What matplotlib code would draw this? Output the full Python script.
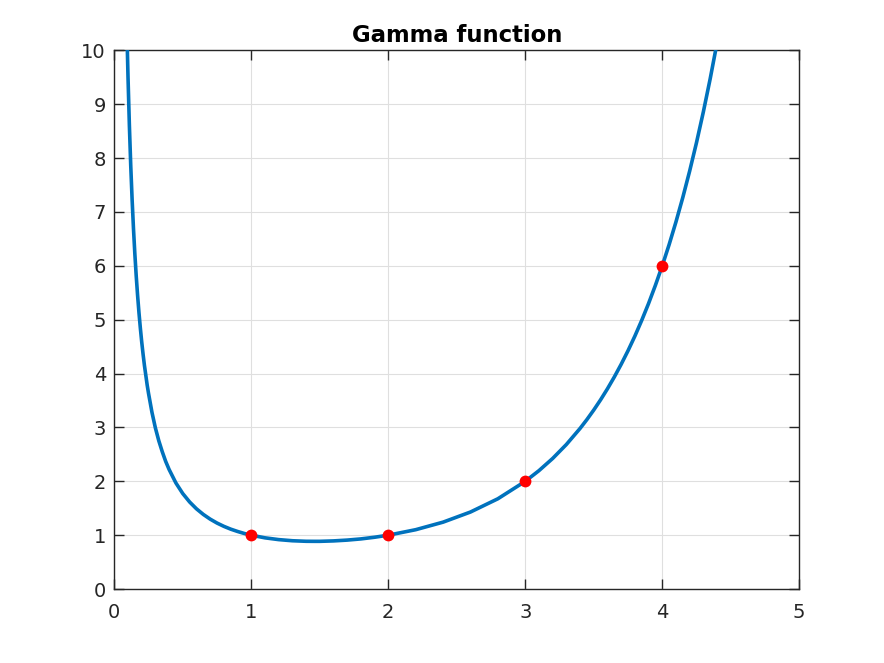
import matplotlib
matplotlib.use("Agg")
import matplotlib.pyplot as plt

# Curve samples
x_curve = [0.09, 0.095, 0.10, 0.11, 0.12, 0.13, 0.14, 0.15, 0.16, 0.17, 0.18, 0.19,
           0.20, 0.21, 0.22, 0.24, 0.25, 0.275, 0.30, 0.325, 0.35, 0.375, 0.40, 0.45,
           0.50, 0.55, 0.60, 0.65, 0.70, 0.75, 0.80, 0.85, 0.90, 0.95, 1.00, 1.10,
           1.20, 1.30, 1.40, 1.46, 1.50, 1.60, 1.70, 1.80, 1.90, 2.00, 2.20, 2.40,
           2.60, 2.80, 3.00, 3.10, 3.20, 3.30, 3.40, 3.45, 3.50, 3.55, 3.60, 3.65,
           3.70, 3.75, 3.80, 3.85, 3.90, 3.95, 4.00, 4.05, 4.10, 4.15, 4.20, 4.25,
           4.30, 4.35, 4.40, 4.45, 4.50]
y_curve = [10.66, 10.04, 9.51, 8.61, 7.86, 7.23, 6.69, 6.22, 5.811, 5.451, 5.132, 4.847,
           4.59, 4.360, 4.150, 3.786, 3.63, 3.279, 2.99, 2.751, 2.55, 2.370, 2.22, 1.968,
           1.772, 1.616, 1.489, 1.385, 1.298, 1.225, 1.164, 1.112, 1.069, 1.031, 1.000, 0.951,
           0.918, 0.897, 0.887, 0.886, 0.886, 0.894, 0.909, 0.931, 0.962, 1.000, 1.102, 1.242,
           1.430, 1.676, 2.000, 2.198, 2.424, 2.683, 2.981, 3.146, 3.323, 3.513, 3.717, 3.936,
           4.171, 4.423, 4.694, 4.986, 5.299, 5.637, 6.000, 6.391, 6.813, 7.267, 7.757, 8.285,
           8.855, 9.471, 10.136, 10.855, 11.632]

# Highlighted points
x_pts = [1, 2, 3, 4]
y_pts = [1, 1, 2, 6]

title = "Gamma function"
x_ticks = [0, 1, 2, 3, 4, 5]
y_ticks = [0, 1, 2, 3, 4, 5, 6, 7, 8, 9, 10]

plt.rcParams['font.family'] = ['DejaVu Sans']
fig = plt.figure(figsize=(8.84, 6.63), dpi=100)
ax = fig.add_axes([0.1293, 0.1115, 0.7748, 0.8127])

ax.plot(x_curve, y_curve, color='#0072BD', lw=2.6, solid_joinstyle='round',
        solid_capstyle='butt', zorder=3)
ax.plot(x_pts, y_pts, 'o', color='#FF0000', markersize=8.5, markeredgewidth=0, zorder=4)

ax.set_xlim(0, 5)
ax.set_ylim(0, 10)
ax.set_xticks(x_ticks)
ax.set_yticks(y_ticks)
ax.set_xticklabels([str(v) for v in x_ticks])
ax.set_yticklabels([str(v) for v in y_ticks])
ax.grid(True, color='#dfdfdf', lw=0.8)
ax.set_axisbelow(True)
for s in ax.spines.values():
    s.set_color('#262626')
    s.set_linewidth(1.0)
ax.tick_params(direction='in', length=7, width=1.0, color='#262626',
               labelcolor='#262626', labelsize=14, top=True, right=True)
ax.tick_params(axis='x', pad=10)
ax.tick_params(axis='y', pad=6)
ax.set_title(title, fontsize=16.4, fontweight='bold', pad=6)

fig.savefig('out.png', dpi=100)
